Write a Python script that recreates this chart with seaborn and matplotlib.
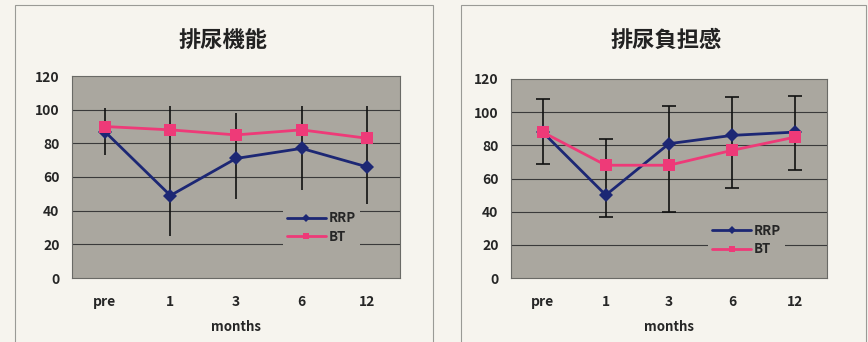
import numpy as np
import pandas as pd
import matplotlib
matplotlib.use('Agg')
import matplotlib.pyplot as plt
import seaborn as sns
from matplotlib.patches import Rectangle

# データ
months = ['pre', '1', '3', '6', '12']

# 排尿機能
func_rrp = [87, 49, 71, 77, 66]
func_bt = [90, 88, 85, 88, 83]
func_err_top = [101, 102, 98, 102, 102]
func_err_bottom = [73, 25, 47, 52, 44]

# 排尿負担感
burden_rrp = [88, 50, 81, 86, 88]
burden_bt = [88, 68, 68, 77, 85]
burden_err_top = [108, 84, 104, 109, 110]
burden_err_bottom = [69, 37, 40, 54, 65]

titles = ['排尿機能', '排尿負担感']
series_names = ['RRP', 'BT']
yticks = [0, 20, 40, 60, 80, 100, 120]

sns.set_style('white')
plt.rcParams['font.family'] = ['Noto Sans CJK JP', 'DejaVu Sans']

c_rrp = '#1c2774'
c_bt = '#ee3a78'
bg_fig = '#f6f4ee'
bg_ax = '#aaa79f'

fig = plt.figure(figsize=(8.68, 3.42), dpi=100)
fig.patch.set_facecolor(bg_fig)

# パネル枠
fig.patches.append(Rectangle((15/868, -0.01), (433-15)/868, 1 - 5/342 + 0.01,
                             transform=fig.transFigure, fill=False, ec='#9a9a96', lw=0.8))
fig.patches.append(Rectangle((461/868, -0.01), (866-461)/868, 1 - 5/342 + 0.01,
                             transform=fig.transFigure, fill=False, ec='#9a9a96', lw=0.8))

ax1 = fig.add_axes([72/868, 1-278/342, (400-72)/868, (278-76)/342])
ax2 = fig.add_axes([511/868, 1-278/342, (827-511)/868, (278-79)/342])

panels = [
    (ax1, func_rrp, func_bt, func_err_top, func_err_bottom, 0, (0.76, 0.25), 0.257),
    (ax2, burden_rrp, burden_bt, burden_err_top, burden_err_bottom, 5, (0.745, 0.19), 0.768),
]

for i, (ax, rrp, bt, etop, ebot, cap, leg_pos, tx) in enumerate(panels):
    df = pd.DataFrame({
        'month': months * 2,
        'value': rrp + bt,
        'group': ['RRP'] * 5 + ['BT'] * 5,
    })
    ax.set_facecolor(bg_ax)
    xs = np.arange(len(months))
    # エラーバー (上端・下端)
    mid = [(t + b) / 2 for t, b in zip(etop, ebot)]
    half = [(t - b) / 2 for t, b in zip(etop, ebot)]
    ax.errorbar(xs, mid, yerr=half, fmt='none', ecolor='#111111', elinewidth=1.2,
                capsize=cap, capthick=1.2, zorder=2)
    sns.lineplot(data=df, x='month', y='value', hue='group', style='group',
                 palette={'RRP': c_rrp, 'BT': c_bt},
                 markers={'RRP': 'D', 'BT': 's'}, dashes=False,
                 markersize=7, linewidth=2, markeredgewidth=0,
                 ax=ax, zorder=3, legend=False, sort=False)
    # BTの四角を大きめに
    ax.lines[-1].set_markersize(9)

    ax.set_ylim(0, 120)
    ax.set_xlim(-0.5, 4.5)
    ax.set_yticks(yticks)
    ax.set_yticklabels([str(v) for v in yticks], fontsize=10, fontweight='bold')
    ax.set_xticks(xs)
    ax.set_xticklabels(months, fontsize=10, fontweight='bold')
    ax.set_xticks(xs[:-1] + 0.5, minor=True)
    ax.tick_params(axis='x', which='major', length=0, pad=12)
    ax.tick_params(axis='x', which='minor', length=3, direction='in', color='#555555')
    ax.tick_params(axis='y', length=0, pad=9)
    for v in yticks[1:-1]:
        ax.axhline(v, color='#3a3a3a', lw=0.8, zorder=1)
    for s in ax.spines.values():
        s.set_color('#6a6a66')
        s.set_linewidth(0.8)
    ax.set_xlabel('months', fontsize=9.5, fontweight='bold', labelpad=8)
    ax.set_ylabel('')

    # 凡例
    h1, = ax.plot([], [], color=c_rrp, marker='D', markersize=4, lw=2, mew=0)
    h2, = ax.plot([], [], color=c_bt, marker='s', markersize=5, lw=2, mew=0)
    leg = ax.legend([h1, h2], series_names, loc='center', bbox_to_anchor=leg_pos,
                    frameon=True, facecolor=bg_ax, edgecolor='none', framealpha=1,
                    handlelength=3.0, handletextpad=0.2, labelspacing=0.35,
                    borderpad=0.3, prop={'size': 9.5, 'weight': 'bold'})
    leg.set_zorder(5)

    fig.text(tx, 1 - 40/342, titles[i], ha='center', va='center',
             fontsize=16, fontweight='bold', color='#222222')

fig.savefig('out.png', dpi=100, facecolor=bg_fig)
